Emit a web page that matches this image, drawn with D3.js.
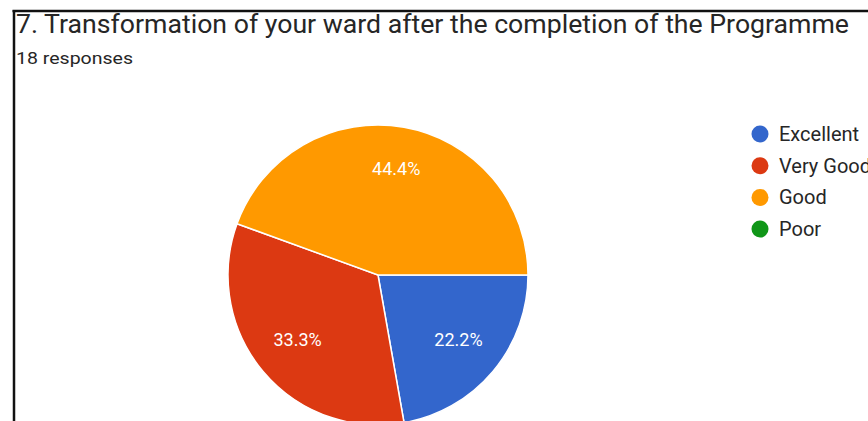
<!DOCTYPE html>
<html>
<head>
<meta charset="utf-8">
<script src="https://cdn.jsdelivr.net/npm/d3@7"></script>
<style>
  html, body { margin: 0; padding: 0; background: #fff; }
  svg { display: block; }
</style>
</head>
<body>
<svg id="chart" width="868" height="421"></svg>
<script>
const titleText = "7. Transformation of your ward after the completion of the Programme";
const subtitleText = "18 responses";
const categories = ["Excellent", "Very Good", "Good", "Poor"];
const counts = [4, 6, 8, 0];
const colors = ["#3366cc", "#dc3912", "#ff9900", "#109618"];

const svg = d3.select("#chart");
const W = 868, H = 421;
const font = "Roboto, Arial, sans-serif";

// frame
svg.append("line").attr("x1", 12.5).attr("x2", W).attr("y1", 11).attr("y2", 11)
  .attr("stroke", "#111").attr("stroke-width", 2.5);
svg.append("line").attr("x1", 14).attr("x2", 14).attr("y1", 10).attr("y2", H)
  .attr("stroke", "#111").attr("stroke-width", 2.5);

svg.append("text").attr("x", 16).attr("y", 33)
  .attr("font-family", font).attr("font-size", 25)
  .attr("textLength", 833).attr("lengthAdjust", "spacingAndGlyphs")
  .attr("fill", "#262626").text(titleText);
svg.append("text").attr("x", 16).attr("y", 64)
  .attr("font-family", font).attr("font-size", 17)
  .attr("textLength", 117).attr("lengthAdjust", "spacingAndGlyphs")
  .attr("fill", "#262626").text(subtitleText);

const data = categories.map((c, i) => ({ name: c, value: counts[i], color: colors[i] }));
const total = d3.sum(counts);
const cx = 378, cy = 275, R = 150;

const pie = d3.pie().value(d => d.value).sort(null)
  .startAngle(Math.PI / 2).endAngle(Math.PI / 2 + 2 * Math.PI);
const arcs = pie(data).filter(d => d.data.value > 0);
const arc = d3.arc().innerRadius(0).outerRadius(R);
const labelArc = d3.arc().innerRadius(R * 0.7).outerRadius(R * 0.7);

const g = svg.append("g").attr("transform", `translate(${cx},${cy})`);
g.selectAll("path").data(arcs).join("path")
  .attr("d", arc).attr("fill", d => d.data.color)
  .attr("stroke", "#fff").attr("stroke-width", 1.5);

g.selectAll("text.lbl").data(arcs).join("text").attr("class", "lbl")
  .attr("transform", d => { const c = labelArc.centroid(d); return `translate(${c[0]},${c[1] - 3})`; })
  .attr("text-anchor", "middle").attr("dominant-baseline", "central")
  .attr("font-family", font).attr("font-size", 18)
  .attr("fill", "#fff")
  .text(d => d3.format(".1%")(d.data.value / total));

// legend
const lg = svg.append("g").attr("transform", "translate(760,134)");
const items = lg.selectAll("g").data(data).join("g")
  .attr("transform", (d, i) => `translate(0,${i * 31.7})`);
items.append("circle").attr("r", 8.5).attr("fill", d => d.color);
items.append("text").attr("x", 19).attr("dy", "0.35em")
  .attr("font-family", font).attr("font-size", 20)
  .attr("fill", "#262626").text(d => d.name);
</script>
</body>
</html>
